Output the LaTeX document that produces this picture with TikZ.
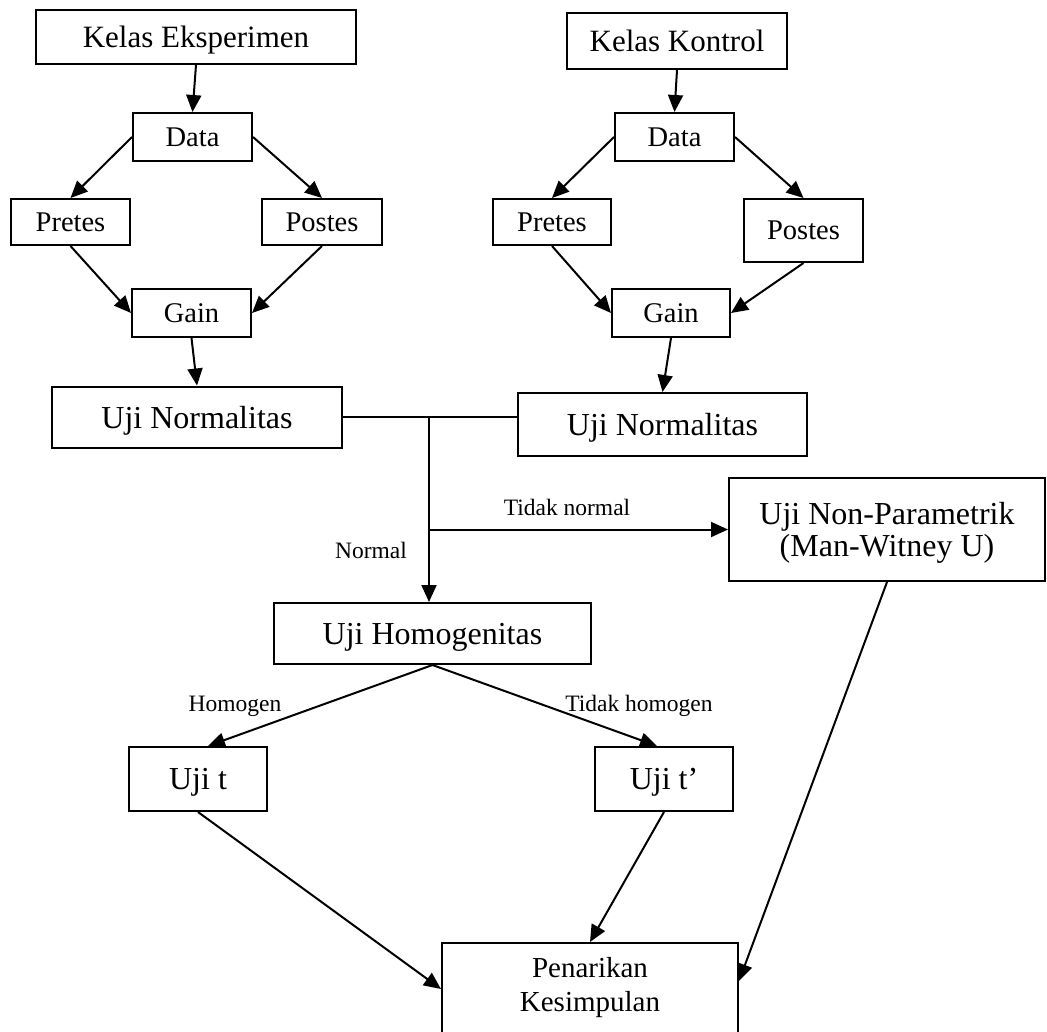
\documentclass[tikz,border=0pt]{standalone}
\usepackage{fontspec}
\setmainfont{Liberation Serif}
\usetikzlibrary{arrows.meta,calc}
\begin{document}
\begin{tikzpicture}[x=1pt,y=-1pt,
  box/.style={draw, line width=2pt, inner sep=0pt, align=center, text depth=0pt},
  big/.style={font=\fontsize{31}{34}\selectfont},
  mid/.style={font=\fontsize{28.5}{32}\selectfont},
  low/.style={font=\fontsize{32}{32}\selectfont},
  lab/.style={font=\fontsize{23.5}{26}\selectfont},
  arr/.style={line width=2pt, -{Triangle[length=17pt,width=15pt]}},
  ln/.style={line width=2pt}]
\useasboundingbox (0,0) rectangle (1047,1031);
\clip (0,0) rectangle (1047,1031);
\fill[white] (0,0) rectangle (1047,1031);

% left column
\node[box,big,minimum width=320pt,minimum height=54pt] (ke) at (196,37) {Kelas Eksperimen};
\node[box,mid,minimum width=119pt,minimum height=48pt] (dl) at (192.5,137) {Data};
\node[box,mid,minimum width=119pt,minimum height=46pt] (pl) at (70.5,222) {Pretes};
\node[box,mid,minimum width=120pt,minimum height=46pt] (ql) at (322,222) {Postes};
\node[box,mid,minimum width=119pt,minimum height=48pt] (gl) at (191.5,313) {Gain};

% right column
\node[box,big,minimum width=220pt,minimum height=56pt] (kk) at (677,41) {Kelas Kontrol};
\node[box,mid,minimum width=119pt,minimum height=48pt] (dr) at (674.5,137) {Data};
\node[box,mid,minimum width=118pt,minimum height=46pt] (pr) at (552,222) {Pretes};
\node[box,mid,minimum width=119pt,minimum height=63pt] (qr) at (803.5,230.5) {Postes};
\node[box,mid,minimum width=118pt,minimum height=48pt] (gr) at (671,313) {Gain};

% lower part
\node[box,low,minimum width=290pt,minimum height=61pt] (nl) at (197,417) {Uji Normalitas};
\node[box,low,minimum width=289pt,minimum height=63pt] (nr) at (662.5,424.5) {Uji Normalitas};
\node[box,low,minimum width=316pt,minimum height=103pt] (np) at (887,529.5) {Uji Non-Parametrik\\(Man-Witney U)};
\node[box,low,minimum width=317pt,minimum height=61pt] (uh) at (432.5,633.5) {Uji Homogenitas};
\node[box,low,minimum width=138pt,minimum height=64pt] (ut) at (198,779) {Uji t};
\node[box,low,minimum width=138pt,minimum height=64pt] (ut2) at (664,779) {Uji t’};
\node[box,minimum width=296pt,minimum height=130pt,anchor=north] (pk) at (590,942) {};
\node[align=center,inner sep=0pt,font=\fontsize{29}{34}\selectfont] (pkt) at (590,988) {Penarikan\\Kesimpulan};

% top connectors
\draw[arr] (ke.south) -- (dl.north);
\draw[arr] (dl.west) -- (pl.north);
\draw[arr] (dl.east) -- (ql.north);
\draw[arr] (pl.south) -- (gl.west);
\draw[arr] (ql.south) -- (gl.east);
\draw[arr] (gl.south) -- (nl.north);

\draw[arr] (kk.south) -- (dr.north);
\draw[arr] (dr.west) -- (pr.north);
\draw[arr] (dr.east) -- (qr.north);
\draw[arr] (pr.south) -- (gr.west);
\draw[arr] (qr.south) -- (gr.east);
\draw[arr] (gr.south) -- (nr.north);

% junction
\coordinate (j) at (429,417);
\coordinate (b) at (429,529.5);
\draw[ln] (nl.east) -- (j) -- (j -| nr.west);
\draw[arr] (j) -- (j |- uh.north);
\draw[arr] (b) -- (np.west);
\node[lab] (tn) at (567,507) {Tidak normal};
\node[lab] (nm) at (371,550) {Normal};

% homogeneity
\draw[arr] (uh.south) -- ([xshift=10pt]ut.north);
\draw[arr] (uh.south) -- ([xshift=-7pt]ut2.north);
\node[lab] (hm) at (235,706) {Homogen};
\node[lab] (th) at (639,706) {Tidak homogen};

% conclusion
\draw[arr] (ut.south) -- ([yshift=19pt]pk.west);
\draw[arr] (ut2.south) -- (pk.north);
\draw[arr] (np.south) -- ([yshift=27pt]pk.east);
\end{tikzpicture}
\end{document}
